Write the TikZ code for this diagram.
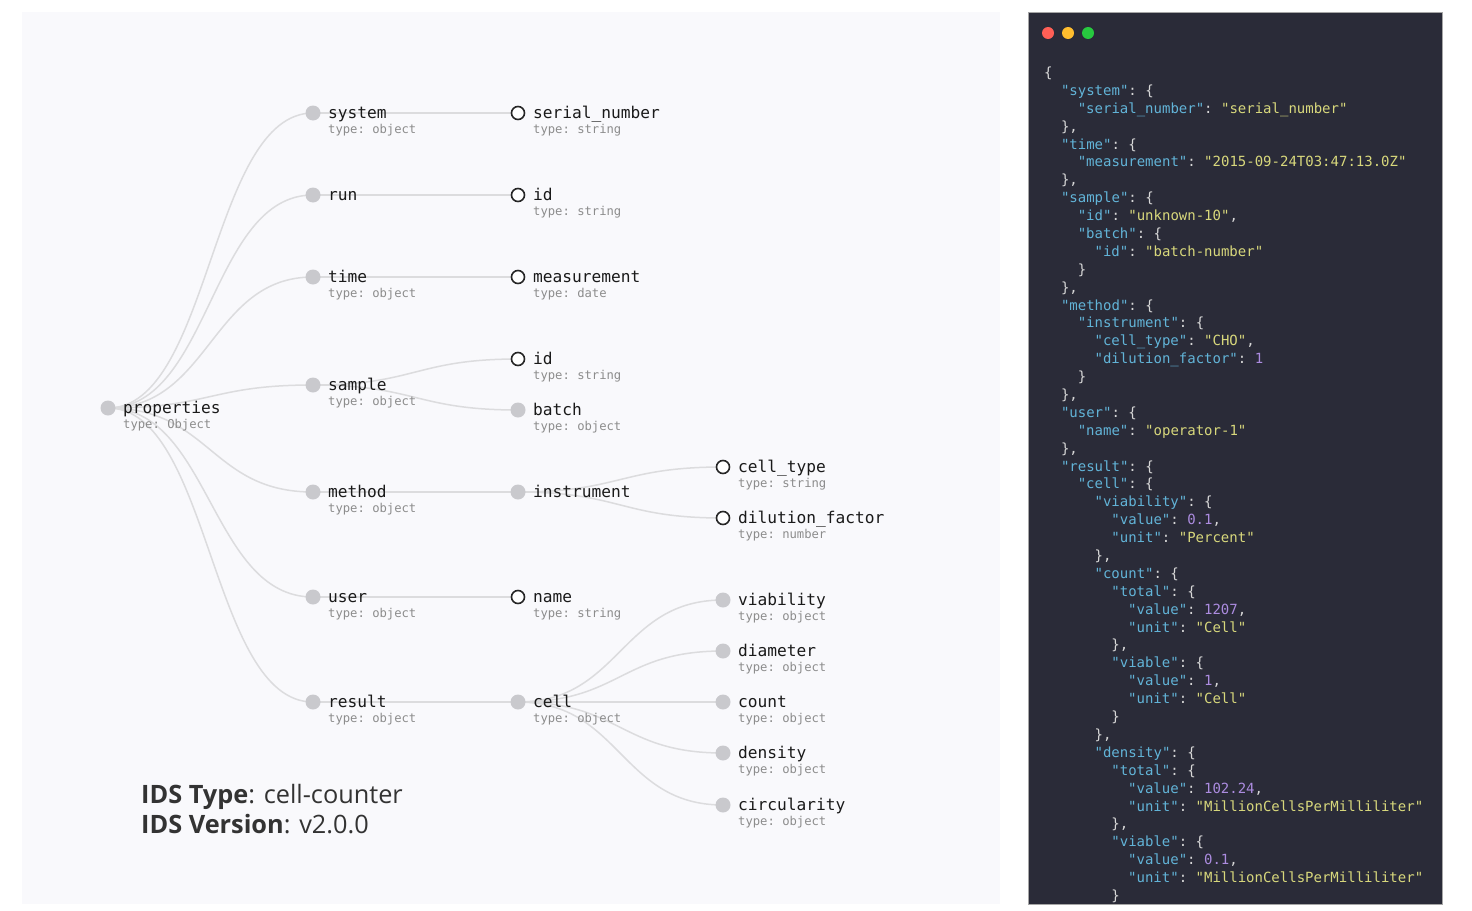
\documentclass[tikz,border=0pt]{standalone}
\usepackage{fontspec}
\setmainfont{Open Sans}
\setmonofont{DejaVu Sans Mono}
\usetikzlibrary{calc}
\pgfdeclarelayer{bg}
\pgfdeclarelayer{links}
\pgfsetlayers{bg,links,main}
\definecolor{panel}{HTML}{F9F9FC}
\definecolor{dark}{HTML}{2A2B38}
\definecolor{dotgray}{HTML}{C9C9CD}
\definecolor{linkgray}{HTML}{DCDCDE}
\definecolor{lblc}{HTML}{1A1A1A}
\definecolor{ringc}{HTML}{262626}
\definecolor{typc}{HTML}{8C8C8C}
\definecolor{jkey}{HTML}{62B4D8}
\definecolor{jstr}{HTML}{D8D87C}
\definecolor{jnum}{HTML}{AC8CE0}
\definecolor{jpunc}{HTML}{D8D8D8}
\definecolor{idsc}{HTML}{333333}
\newcommand\Kq[1]{\textcolor{jkey}{"#1"}}
\newcommand\Sq[1]{\textcolor{jstr}{"#1"}}
\newcommand\Nm[1]{\textcolor{jnum}{#1}}
\newcommand\CL[3]{\node[codeline] (c#1) at (1044+#2*16.8, 72+#1*17.89-17.89+5.5) {#3};}
\newcommand\TN[6]{%
  \node[#4] (#1) at (#2,#3) {};
  \node[lbl] (#1-l) at (#2+15,#3+5.5) {#5};
  \node[typ] (#1-t) at (#2+15,#3+20.5) {#6};}
\tikzset{
  fdot/.style={circle, fill=dotgray, inner sep=0pt, minimum size=15pt},
  odot/.style={circle, draw=ringc, line width=1.6pt, fill=white, inner sep=0pt, minimum size=13pt},
  lbl/.style={anchor=base west, inner sep=0pt, font=\ttfamily\fontsize{16.2}{16}\selectfont, text=lblc},
  typ/.style={anchor=base west, inner sep=0pt, font=\ttfamily\fontsize{12.2}{12}\selectfont, text=typc},
  codeline/.style={anchor=base west, inner sep=0pt, font=\ttfamily\fontsize{14}{14}\selectfont, text=jpunc},
  link/.style={draw=linkgray, line width=1.5pt,
    to path={.. controls ($(\tikztostart)!0.5!(\tikztotarget|-\tikztostart)$) and ($(\tikztotarget)!0.5!(\tikztostart|-\tikztotarget)$) .. (\tikztotarget)}},
  ids/.style={anchor=base west, inner sep=0pt, font=\fontsize{25.3}{25}\selectfont, text=idsc},
  light/.style={circle, inner sep=0pt, minimum size=12pt}
}
\begin{document}
\begin{tikzpicture}[x=1pt,y=-1pt]
\useasboundingbox (0,0) rectangle (1472,910);
\begin{pgfonlayer}{bg}
  \fill[panel] (22,12) rectangle (1000,904);
  \fill[dark] (1028,12) rectangle (1442,904);
  \draw[gray!70, line width=1pt] (1028,12) rectangle (1442,904);
\end{pgfonlayer}
% tree nodes
\TN{prop}{108}{408}{fdot}{properties}{type: Object}
\TN{sys}{313}{113}{fdot}{system}{type: object}
\node[fdot] (run) at (313,195) {};
\node[lbl] (run-l) at (328,200.5) {run};
\TN{time}{313}{277}{fdot}{time}{type: object}
\TN{samp}{313}{385}{fdot}{sample}{type: object}
\TN{meth}{313}{492}{fdot}{method}{type: object}
\TN{user}{313}{597}{fdot}{user}{type: object}
\TN{res}{313}{702}{fdot}{result}{type: object}
\TN{ser}{518}{113}{odot}{serial\_number}{type: string}
\TN{rid}{518}{195}{odot}{id}{type: string}
\TN{meas}{518}{277}{odot}{measurement}{type: date}
\TN{sid}{518}{359}{odot}{id}{type: string}
\TN{batch}{518}{410}{fdot}{batch}{type: object}
\node[fdot] (inst) at (518,492) {};
\node[lbl] (inst-l) at (533,497.5) {instrument};
\TN{name}{518}{597}{odot}{name}{type: string}
\TN{cell}{518}{702}{fdot}{cell}{type: object}
\TN{ctype}{723}{467}{odot}{cell\_type}{type: string}
\TN{dil}{723}{518}{odot}{dilution\_factor}{type: number}
\TN{via}{723}{600}{fdot}{viability}{type: object}
\TN{diam}{723}{651}{fdot}{diameter}{type: object}
\TN{cnt}{723}{702}{fdot}{count}{type: object}
\TN{dens}{723}{753}{fdot}{density}{type: object}
\TN{circ}{723}{805}{fdot}{circularity}{type: object}
% links
\begin{pgfonlayer}{links}
  \foreach \c in {sys,run,time,samp,meth,user,res}
    \draw[link] (prop.center) to (\c.center);
  \draw[link] (sys.center) to (ser.center);
  \draw[link] (run.center) to (rid.center);
  \draw[link] (time.center) to (meas.center);
  \draw[link] (samp.center) to (sid.center);
  \draw[link] (samp.center) to (batch.center);
  \draw[link] (meth.center) to (inst.center);
  \draw[link] (inst.center) to (ctype.center);
  \draw[link] (inst.center) to (dil.center);
  \draw[link] (user.center) to (name.center);
  \draw[link] (res.center) to (cell.center);
  \foreach \c in {via,diam,cnt,dens,circ}
    \draw[link] (cell.center) to (\c.center);
\end{pgfonlayer}
% IDS text
\node[ids] (idstype) at (141,803) {\textbf{IDS Type}: cell-counter};
\node[ids] (idsver) at (141,833) {\textbf{IDS Version}: v2.0.0};
% window lights
\node[light, fill={rgb,255:red,255;green,95;blue,86}] (lr) at (1048,33) {};
\node[light, fill={rgb,255:red,255;green,189;blue,46}] (ly) at (1068,33) {};
\node[light, fill={rgb,255:red,39;green,201;blue,63}] (lg) at (1088,33) {};
% code
\CL{1}{0}{\{}
\CL{2}{1}{\Kq{system}: \{}
\CL{3}{2}{\Kq{serial\_number}: \Sq{serial\_number}}
\CL{4}{1}{\},}
\CL{5}{1}{\Kq{time}: \{}
\CL{6}{2}{\Kq{measurement}: \Sq{2015-09-24T03:47:13.0Z}}
\CL{7}{1}{\},}
\CL{8}{1}{\Kq{sample}: \{}
\CL{9}{2}{\Kq{id}: \Sq{unknown-10},}
\CL{10}{2}{\Kq{batch}: \{}
\CL{11}{3}{\Kq{id}: \Sq{batch-number}}
\CL{12}{2}{\}}
\CL{13}{1}{\},}
\CL{14}{1}{\Kq{method}: \{}
\CL{15}{2}{\Kq{instrument}: \{}
\CL{16}{3}{\Kq{cell\_type}: \Sq{CHO},}
\CL{17}{3}{\Kq{dilution\_factor}: \Nm{1}}
\CL{18}{2}{\}}
\CL{19}{1}{\},}
\CL{20}{1}{\Kq{user}: \{}
\CL{21}{2}{\Kq{name}: \Sq{operator-1}}
\CL{22}{1}{\},}
\CL{23}{1}{\Kq{result}: \{}
\CL{24}{2}{\Kq{cell}: \{}
\CL{25}{3}{\Kq{viability}: \{}
\CL{26}{4}{\Kq{value}: \Nm{0.1},}
\CL{27}{4}{\Kq{unit}: \Sq{Percent}}
\CL{28}{3}{\},}
\CL{29}{3}{\Kq{count}: \{}
\CL{30}{4}{\Kq{total}: \{}
\CL{31}{5}{\Kq{value}: \Nm{1207},}
\CL{32}{5}{\Kq{unit}: \Sq{Cell}}
\CL{33}{4}{\},}
\CL{34}{4}{\Kq{viable}: \{}
\CL{35}{5}{\Kq{value}: \Nm{1},}
\CL{36}{5}{\Kq{unit}: \Sq{Cell}}
\CL{37}{4}{\}}
\CL{38}{3}{\},}
\CL{39}{3}{\Kq{density}: \{}
\CL{40}{4}{\Kq{total}: \{}
\CL{41}{5}{\Kq{value}: \Nm{102.24},}
\CL{42}{5}{\Kq{unit}: \Sq{MillionCellsPerMilliliter}}
\CL{43}{4}{\},}
\CL{44}{4}{\Kq{viable}: \{}
\CL{45}{5}{\Kq{value}: \Nm{0.1},}
\CL{46}{5}{\Kq{unit}: \Sq{MillionCellsPerMilliliter}}
\CL{47}{4}{\}}
\end{tikzpicture}
\end{document}
